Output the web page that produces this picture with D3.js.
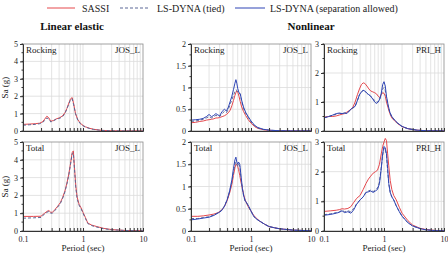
<!DOCTYPE html>
<html>
<head>
<meta charset="utf-8">
<script src="https://cdn.jsdelivr.net/npm/d3@7"></script>
<style>
  body { margin: 0; background: #fff; }
  svg { display: block; font-family: "Liberation Serif", "Times New Roman", serif; }
</style>
</head>
<body>
<svg id="chart" width="448" height="257"></svg>
<script>
// ---- data (period in sec, Sa in g) ----
const linRockP = [0.1,0.13,0.16,0.19,0.21,0.23,0.25,0.27,0.29,0.32,0.36,0.4,0.45,0.5,0.54,0.58,0.62,0.66,0.7,0.75,0.82,0.9,1.0,1.1,1.3,1.5,2,3,5,10]
const linRockSassi = [0.38,0.4,0.42,0.45,0.52,0.68,0.85,0.75,0.56,0.6,0.7,0.75,0.85,1.05,1.3,1.6,1.85,1.92,1.55,1.0,0.65,0.45,0.32,0.24,0.15,0.1,0.04,0.01,0.003,0.001]
const linRockTied = [0.33,0.36,0.38,0.42,0.48,0.6,0.75,0.68,0.52,0.58,0.68,0.72,0.8,1.0,1.28,1.55,1.8,1.85,1.5,1.0,0.62,0.42,0.3,0.22,0.14,0.09,0.035,0.01,0.003,0.001]

const linTotP = [0.1,0.15,0.2,0.21,0.23,0.25,0.27,0.29,0.31,0.34,0.38,0.42,0.46,0.5,0.54,0.58,0.62,0.66,0.69,0.72,0.76,0.8,0.86,0.93,1.0,1.1,1.2,1.4,1.7,2.2,3,5,10]
const linTotSassi = [0.82,0.82,0.83,0.9,1.0,1.1,1.15,1.05,1.05,1.2,1.4,1.6,1.9,2.25,2.7,3.2,3.8,4.4,4.5,3.6,2.5,1.9,1.5,1.3,1.05,0.75,0.45,0.33,0.25,0.15,0.08,0.03,0.01]
const linTotTied = [0.72,0.74,0.76,0.85,0.95,1.05,1.1,1.0,1.0,1.15,1.35,1.55,1.85,2.2,2.65,3.15,3.75,4.35,4.4,3.5,2.4,1.8,1.45,1.25,1.0,0.7,0.42,0.3,0.22,0.13,0.07,0.03,0.01]

const josRockP = [0.1,0.12,0.14,0.16,0.18,0.2,0.22,0.24,0.26,0.28,0.3,0.33,0.36,0.39,0.42,0.45,0.48,0.51,0.54,0.56,0.58,0.6,0.63,0.66,0.7,0.75,0.82,0.9,1.0,1.15,1.3,1.6,2,3,5,10]
const josRockSassi = [0.19,0.2,0.22,0.23,0.25,0.26,0.27,0.28,0.3,0.3,0.31,0.33,0.35,0.38,0.42,0.48,0.58,0.7,0.82,0.88,0.92,0.9,0.8,0.68,0.55,0.45,0.35,0.26,0.18,0.1,0.06,0.03,0.015,0.005,0.002,0.001]
const josRockTied = [0.22,0.23,0.25,0.27,0.3,0.33,0.3,0.33,0.36,0.34,0.33,0.4,0.45,0.42,0.5,0.62,0.72,0.82,0.9,0.95,0.93,0.9,0.88,0.85,0.68,0.52,0.4,0.31,0.21,0.12,0.07,0.035,0.018,0.006,0.002,0.001]
const josRockSep = [0.25,0.26,0.27,0.29,0.33,0.38,0.33,0.36,0.4,0.37,0.35,0.45,0.5,0.46,0.55,0.68,0.8,0.95,1.1,1.18,1.1,0.98,0.88,0.86,0.7,0.55,0.42,0.33,0.23,0.13,0.08,0.04,0.02,0.006,0.002,0.001]

const josTotP = [0.1,0.13,0.16,0.2,0.24,0.28,0.32,0.36,0.4,0.44,0.48,0.51,0.54,0.56,0.58,0.6,0.62,0.65,0.68,0.72,0.76,0.8,0.86,0.92,1.0,1.1,1.2,1.4,1.7,2,2.5,3,5,10]
const josTotSassi = [0.33,0.33,0.34,0.36,0.38,0.41,0.46,0.55,0.68,0.85,1.05,1.25,1.42,1.5,1.5,1.45,1.38,1.25,1.1,0.95,0.8,0.7,0.6,0.52,0.45,0.36,0.3,0.22,0.15,0.1,0.07,0.05,0.02,0.005]
const josTotTied = [0.28,0.28,0.3,0.32,0.36,0.41,0.46,0.56,0.7,0.88,1.1,1.32,1.5,1.55,1.5,1.45,1.5,1.45,1.2,0.92,0.76,0.67,0.61,0.54,0.44,0.34,0.28,0.22,0.15,0.1,0.07,0.05,0.02,0.005]
const josTotSep = [0.25,0.27,0.29,0.31,0.35,0.4,0.45,0.55,0.7,0.9,1.15,1.4,1.6,1.66,1.55,1.5,1.55,1.5,1.25,0.95,0.78,0.68,0.62,0.55,0.45,0.34,0.28,0.22,0.15,0.1,0.07,0.05,0.02,0.005]

const priRockP = [0.1,0.12,0.14,0.16,0.18,0.2,0.22,0.24,0.27,0.3,0.33,0.36,0.39,0.42,0.45,0.48,0.52,0.56,0.6,0.65,0.7,0.75,0.8,0.85,0.9,0.95,1.0,1.05,1.1,1.17,1.25,1.35,1.5,1.7,2,2.5,3.5,5,10]
const priRockSassi = [0.48,0.5,0.5,0.52,0.55,0.58,0.6,0.65,0.72,0.8,1.0,1.25,1.45,1.6,1.66,1.64,1.55,1.45,1.38,1.35,1.32,1.28,1.2,1.15,1.25,1.32,1.3,1.2,1.0,0.8,0.6,0.45,0.35,0.25,0.15,0.08,0.03,0.01,0.003]
const priRockTied = [0.46,0.5,0.54,0.58,0.6,0.6,0.62,0.62,0.7,0.78,0.85,1.05,1.25,1.35,1.4,1.38,1.3,1.25,1.2,1.12,1.05,1.0,1.0,1.1,1.25,1.45,1.5,1.4,1.15,0.88,0.63,0.48,0.37,0.26,0.15,0.08,0.03,0.01,0.003]
const priRockSep = [0.45,0.5,0.55,0.6,0.62,0.6,0.62,0.6,0.72,0.8,0.85,1.05,1.25,1.35,1.4,1.38,1.3,1.25,1.2,1.1,1.0,0.95,1.0,1.1,1.3,1.6,1.7,1.55,1.2,0.9,0.65,0.5,0.38,0.27,0.16,0.08,0.03,0.01,0.003]

const priTotP = [0.1,0.13,0.16,0.18,0.2,0.22,0.25,0.28,0.31,0.35,0.4,0.45,0.5,0.55,0.6,0.66,0.72,0.78,0.84,0.9,0.95,1.0,1.05,1.1,1.15,1.2,1.27,1.35,1.45,1.6,1.8,2,2.5,3,4,5,7,10]
const priTotSassi = [0.66,0.68,0.7,0.72,0.75,0.74,0.76,0.82,0.95,1.1,1.2,1.4,1.6,1.75,1.85,1.95,2.0,2.05,2.25,2.6,2.85,3.0,3.12,3.05,2.6,2.2,1.7,1.4,1.2,1.05,0.8,0.6,0.35,0.2,0.09,0.05,0.02,0.01]
const priTotTied = [0.55,0.58,0.62,0.65,0.7,0.65,0.68,0.65,0.75,0.92,1.05,1.15,1.3,1.35,1.38,1.33,1.38,1.45,1.65,2.15,2.55,2.8,2.75,2.55,2.05,1.6,1.3,1.15,1.05,0.85,0.65,0.5,0.28,0.17,0.08,0.04,0.015,0.005]
const priTotSep = [0.53,0.56,0.6,0.63,0.68,0.62,0.65,0.6,0.7,0.9,1.05,1.15,1.3,1.32,1.35,1.3,1.35,1.4,1.6,2.1,2.6,2.85,2.8,2.6,2.1,1.6,1.3,1.15,1.05,0.85,0.65,0.5,0.28,0.17,0.08,0.04,0.015,0.005]

const legendLabels = ["SASSI", "LS-DYNA (tied)", "LS-DYNA (separation allowed)"]
const xTickLabels = [0.1, 1, 10]

// series styles
const styles = {
    sassi: { color: "#e5484d", dash: null, width: 1 },
    tied: { color: "#5b6796", dash: "3,2", width: 1 },
    sep: { color: "#2f45b5", dash: null, width: 1 }
}

// panel layout
const colX = [[23, 143], [191, 311], [324, 444]]
const rowY = [[44, 131], [142, 231]]

const panels = [
    { col: 0, row: 0, ymax: 5, yticks: [0,1,2,3,4,5], left: "Rocking", right: "JOS_L", P: linRockP, series: { sassi: linRockSassi, tied: linRockTied } },
    { col: 0, row: 1, ymax: 5, yticks: [0,1,2,3,4,5], left: "Total", right: "JOS_L", P: linTotP, series: { sassi: linTotSassi, tied: linTotTied } },
    { col: 1, row: 0, ymax: 2, yticks: [0,0.5,1,1.5,2], left: "Rocking", right: "JOS_L", P: josRockP, series: { sassi: josRockSassi, tied: josRockTied, sep: josRockSep } },
    { col: 1, row: 1, ymax: 2, yticks: [0,0.5,1,1.5,2], left: "Total", right: "JOS_L", P: josTotP, series: { sassi: josTotSassi, tied: josTotTied, sep: josTotSep } },
    { col: 2, row: 0, ymax: 3, yticks: [0,1,2,3], left: "Rocking", right: "PRI_H", P: priRockP, series: { sassi: priRockSassi, tied: priRockTied, sep: priRockSep } },
    { col: 2, row: 1, ymax: 3, yticks: [0,1,2,3], left: "Total", right: "PRI_H", P: priTotP, series: { sassi: priTotSassi, tied: priTotTied, sep: priTotSep } }
]

const svg = d3.select("#chart")

// log minor ticks 0.1..10
const logTicks = []
;[0.1, 1].forEach(dec => { for (let k = 1; k <= 9; k++) logTicks.push(+(dec * k).toFixed(2)) })
logTicks.push(10)

panels.forEach(p => {
    const [x0, x1] = colX[p.col]
    const [y0, y1] = rowY[p.row]
    const x = d3.scaleLog().domain([0.1, 10]).range([x0, x1])
    const y = d3.scaleLinear().domain([0, p.ymax]).range([y1, y0])
    const g = svg.append("g")

    // grid
    g.append("g").selectAll("line.v")
        .data(logTicks.filter(t => t > 0.1 && t < 10))
        .enter().append("line")
        .attr("x1", d => x(d)).attr("x2", d => x(d))
        .attr("y1", y0).attr("y2", y1)
        .attr("stroke", "#dcdcdc").attr("stroke-width", 0.8)
    g.append("g").selectAll("line.h")
        .data(p.yticks.filter(t => t > 0 && t < p.ymax))
        .enter().append("line")
        .attr("x1", x0).attr("x2", x1)
        .attr("y1", d => y(d)).attr("y2", d => y(d))
        .attr("stroke", "#dcdcdc").attr("stroke-width", 0.8)

    // frame
    g.append("rect")
        .attr("x", x0).attr("y", y0)
        .attr("width", x1 - x0).attr("height", y1 - y0)
        .attr("fill", "none").attr("stroke", "#8a8a8a").attr("stroke-width", 0.8)

    // curves
    const line = d3.line()
        .x(d => x(d[0]))
        .y(d => y(d[1]))
    ;["sassi", "tied", "sep"].forEach(key => {
        const vals = p.series[key]
        if (!vals) return
        const st = styles[key]
        g.append("path")
            .datum(p.P.map((t, i) => [t, vals[i]]))
            .attr("d", line)
            .attr("fill", "none")
            .attr("stroke", st.color)
            .attr("stroke-width", st.width)
            .attr("stroke-dasharray", st.dash)
    })

    // y axis
    const minorStep = p.yticks[1] / 2
    const yMinor = d3.range(0, p.ymax + 1e-9, minorStep)
    const ya = g.append("g")
        .attr("transform", `translate(${x0},0)`)
        .call(d3.axisLeft(y).tickValues(p.yticks).tickSize(3).tickPadding(2)
            .tickFormat(d => d3.format("~g")(d)))
    ya.append("g").selectAll("line")
        .data(yMinor)
        .enter().append("line")
        .attr("x1", 0).attr("x2", -1.5)
        .attr("y1", d => y(d)).attr("y2", d => y(d))
        .attr("stroke", "#333")
    ya.select(".domain").attr("stroke", "#333")
    ya.selectAll(".tick line").attr("stroke", "#333")
    ya.selectAll("text").attr("font-size", 8).attr("fill", "#222")
        .attr("font-family", "Liberation Serif, serif")

    // x axis
    const xa = g.append("g")
        .attr("transform", `translate(0,${y1})`)
        .call(d3.axisBottom(x).tickValues(logTicks).tickSize(-3).tickPadding(5)
            .tickFormat(d => p.row === 1 && xTickLabels.includes(d) ? d3.format("~g")(d) : ""))
    xa.select(".domain").attr("stroke", "#333")
    xa.selectAll(".tick line").attr("stroke", "#333")
    xa.selectAll("text").attr("font-size", 8).attr("fill", "#222")
        .attr("font-family", "Liberation Serif, serif")

    // panel labels
    g.append("text").attr("x", x0 + 3).attr("y", y0 + 9)
        .attr("font-size", 9).attr("fill", "#222").text(p.left)
    g.append("text").attr("x", x1 - 3).attr("y", y0 + 9)
        .attr("font-size", 9).attr("fill", "#222").attr("text-anchor", "end").text(p.right)

    if (p.row === 1) {
        g.append("text").attr("x", (x0 + x1) / 2).attr("y", 251)
            .attr("font-size", 9).attr("fill", "#222").attr("text-anchor", "middle")
            .text("Period (sec)")
    }
    if (p.col === 0) {
        g.append("text")
            .attr("transform", `translate(8,${(y0 + y1) / 2}) rotate(-90)`)
            .attr("font-size", 9).attr("fill", "#222").attr("text-anchor", "middle")
            .text("Sa (g)")
    }
})

// legend
const legendX = [[47, 75, 82], [120, 150, 157], [235, 265, 270]]
const legendKeys = ["sassi", "tied", "sep"]
legendLabels.forEach((lab, i) => {
    const st = styles[legendKeys[i]]
    const [a, b, t] = legendX[i]
    svg.append("line").attr("x1", a).attr("x2", b).attr("y1", 8).attr("y2", 8)
        .attr("stroke", st.color).attr("stroke-width", 1).attr("stroke-dasharray", st.dash)
    svg.append("text").attr("x", t).attr("y", 11.5)
        .attr("font-size", 10).attr("fill", "#222").text(lab)
})

// column titles
svg.append("text").attr("x", 72).attr("y", 30).attr("text-anchor", "middle")
    .attr("font-size", 11).attr("font-weight", "bold").attr("fill", "#111").text("Linear elastic")
svg.append("text").attr("x", 311).attr("y", 30).attr("text-anchor", "middle")
    .attr("font-size", 11).attr("font-weight", "bold").attr("fill", "#111").text("Nonlinear")
</script>
</body>
</html>
